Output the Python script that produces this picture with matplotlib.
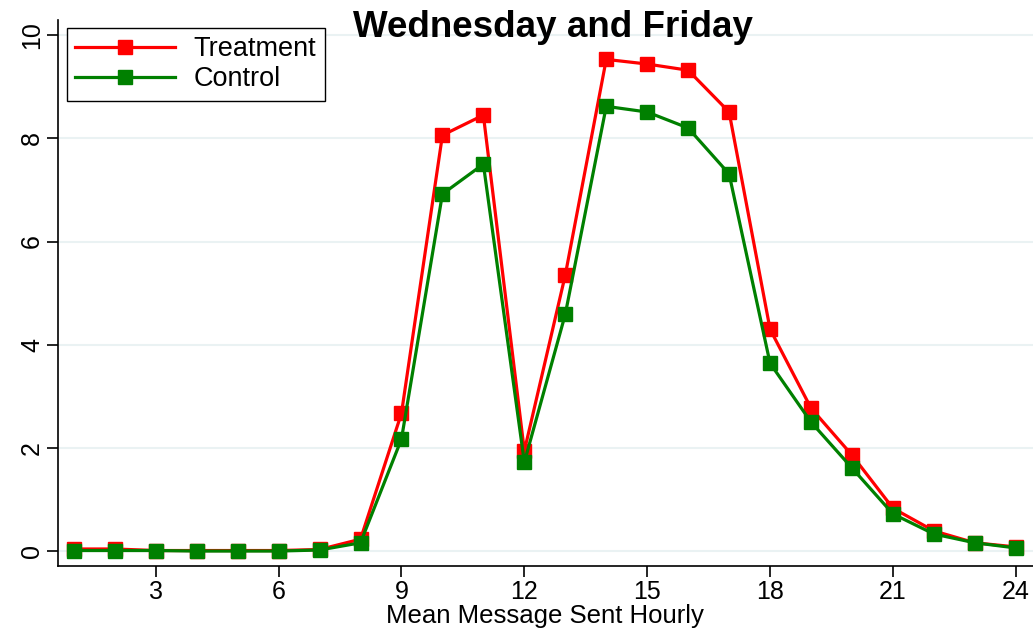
import matplotlib
matplotlib.use("Agg")
import matplotlib.pyplot as plt

# hourly means
hours = list(range(1, 25))
treatment = [0.04, 0.04, 0.01, 0.01, 0.01, 0.01, 0.03, 0.23, 2.67, 8.06, 8.45, 1.94,
             5.35, 9.53, 9.44, 9.32, 8.51, 4.30, 2.77, 1.86, 0.83, 0.39, 0.16, 0.08]
control = [0.01, 0.01, 0.01, 0.0, 0.0, 0.0, 0.02, 0.16, 2.17, 6.92, 7.50, 1.72,
           4.59, 8.62, 8.51, 8.20, 7.31, 3.64, 2.50, 1.61, 0.72, 0.33, 0.16, 0.06]
xticks = [3, 6, 9, 12, 15, 18, 21, 24]
yticks = [0, 2, 4, 6, 8, 10]

plt.rcParams['font.family'] = ['Liberation Sans', 'DejaVu Sans']

fig = plt.figure(figsize=(10.33, 6.31), dpi=100)
ax = fig.add_axes([0.056, 0.103, 0.944, 0.865])

for y in yticks:
    ax.axhline(y, color='#eaf2f3', lw=1.5, zorder=0)

ax.plot(hours, treatment, color='#ff0000', lw=2.3, marker='s', ms=10,
        label='Treatment', zorder=3)
ax.plot(hours, control, color='#008000', lw=2.3, marker='s', ms=10,
        label='Control', zorder=4)

ax.set_xlim(0.61, 24.42)
ax.set_ylim(-0.29, 10.29)
ax.set_xticks(xticks)
ax.set_yticks(yticks)
ax.tick_params(axis='both', labelsize=18, length=8, width=1.2, color='black')
ax.tick_params(axis='x', pad=2)
ax.tick_params(axis='y', pad=2)
for lab in ax.get_yticklabels():
    lab.set_rotation(90)
    lab.set_va('center')

for side in ['top', 'right']:
    ax.spines[side].set_visible(False)
for side in ['left', 'bottom']:
    ax.spines[side].set_linewidth(1.2)

ax.set_xlabel('Mean Message Sent Hourly', fontsize=18.5, labelpad=0)
fig.text(0.535, 0.957, 'Wednesday and Friday', ha='center', va='center',
         fontsize=26.5, fontweight='bold')

leg = ax.legend(loc='upper left', bbox_to_anchor=(-0.005, 1.01), fontsize=19.5,
                frameon=True, fancybox=False, edgecolor='black', framealpha=1,
                handlelength=3.7, borderpad=0.3, labelspacing=0.15,
                handletextpad=0.7, borderaxespad=0.5)
leg.get_frame().set_linewidth(1.0)

fig.savefig('out.png', dpi=100)
